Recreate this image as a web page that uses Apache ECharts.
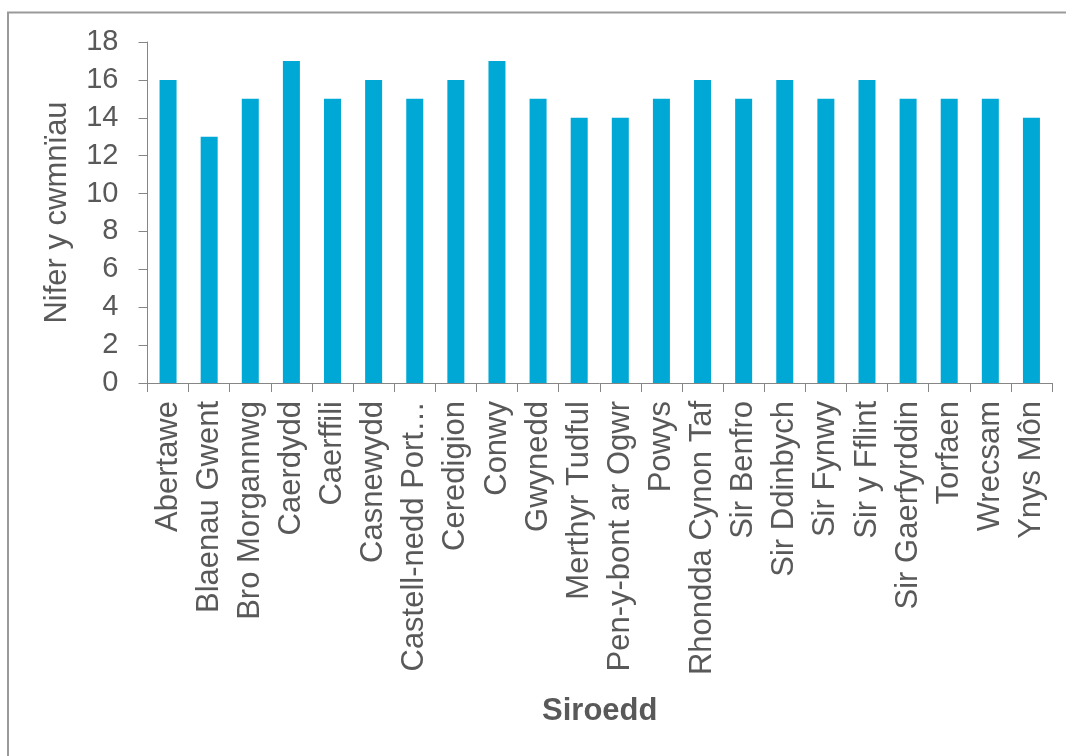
<!DOCTYPE html>
<html>
<head>
<meta charset="utf-8">
<script src="https://cdn.jsdelivr.net/npm/echarts@6/dist/echarts.min.js"></script>
<style>html,body{margin:0;padding:0;background:#fff}#c{width:1066px;height:756px}</style>
</head>
<body>
<div id="c"></div>
<script>
const categories = ["Abertawe","Blaenau Gwent","Bro Morgannwg","Caerdydd","Caerffili","Casnewydd","Castell-nedd Port Talbot","Ceredigion","Conwy","Gwynedd","Merthyr Tudful","Pen-y-bont ar Ogwr","Powys","Rhondda Cynon Taf","Sir Benfro","Sir Ddinbych","Sir Fynwy","Sir y Fflint","Sir Gaerfyrddin","Torfaen","Wrecsam","Ynys Môn"];
const values = [16,13,15,17,15,16,15,16,17,15,14,14,15,16,15,16,15,16,15,15,15,14];
const yTicks = {min:0, max:18, interval:2};
const yName = "Nifer y cwmnïau";
const xName = "Siroedd";

const chart = echarts.init(document.getElementById('c'));
const font = "'Liberation Sans', Arial, sans-serif";
chart.setOption({
  animation:false,
  graphic:[{type:'rect', shape:{x:8,y:12.5,width:1070,height:760}, style:{fill:null, stroke:'#9a9a9a', lineWidth:2}, silent:true}],
  grid:{left:147.5, right:14, top:42, bottom:373, containLabel:false},
  xAxis:{type:'category', data:categories,
    name:xName, nameLocation:'middle', nameGap:313,
    nameTextStyle:{fontFamily:font, fontSize:31, fontWeight:'bold', color:'#595959'},
    axisLine:{lineStyle:{color:'#868686', width:1}},
    axisTick:{show:true, length:9, lineStyle:{color:'#868686'}},
    axisLabel:{rotate:90, interval:0, margin:18, fontFamily:font, fontSize:31, color:'#595959',
      formatter:function(v){return v.length>20 ? v.slice(0,17)+'…' : v;}}
  },
  yAxis:{type:'value', min:yTicks.min, max:yTicks.max, interval:yTicks.interval,
    name:yName, nameLocation:'middle', nameGap:75,
    nameTextStyle:{fontFamily:font, fontSize:31, color:'#595959'},
    axisLine:{show:true, lineStyle:{color:'#868686', width:1}},
    axisTick:{show:true, length:9, lineStyle:{color:'#868686'}},
    splitLine:{show:false},
    axisLabel:{margin:29, fontFamily:font, fontSize:29, color:'#595959'}
  },
  series:[{type:'bar', data:values, barWidth:17, itemStyle:{color:'#00A9D5'}}]
});
</script>
</body>
</html>
